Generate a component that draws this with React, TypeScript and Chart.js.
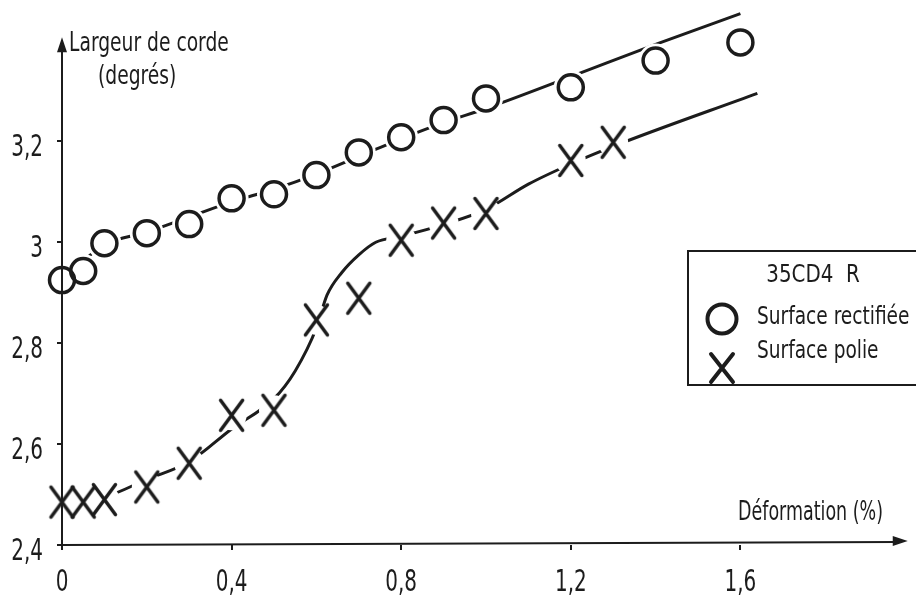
import { useEffect, useRef } from "react";
import { Chart, registerables } from "chart.js";

Chart.register(...registerables);

// ---- data ----
const xTickValues = [0, 0.4, 0.8, 1.2, 1.6];
const yTickValues = [2.4, 2.6, 2.8, 3.0, 3.2];

const rectifieeX = [0, 0.05, 0.1, 0.2, 0.3, 0.4, 0.5, 0.6, 0.7, 0.8, 0.9, 1.0, 1.2, 1.4, 1.6];
const rectifieeY = [2.925, 2.943, 2.998, 3.018, 3.036, 3.087, 3.095, 3.133, 3.178, 3.208, 3.242, 3.285, 3.307, 3.36, 3.396];

const polieX = [0, 0.05, 0.1, 0.2, 0.3, 0.4, 0.5, 0.6, 0.7, 0.8, 0.9, 1.0, 1.2, 1.3];
const polieY = [2.485, 2.485, 2.49, 2.515, 2.562, 2.657, 2.667, 2.846, 2.889, 3.004, 3.038, 3.057, 3.162, 3.198];

const rectifieeTrendX = [0, 0.1, 0.2, 0.3, 0.4, 0.5, 0.6, 0.7, 0.8, 0.9, 1.0, 1.2, 1.4, 1.6];
const rectifieeTrendY = [2.925, 2.995, 3.02, 3.05, 3.08, 3.105, 3.135, 3.17, 3.205, 3.237, 3.265, 3.328, 3.392, 3.453];

const polieTrendX = [0, 0.1, 0.2, 0.3, 0.4, 0.5, 0.55, 0.6, 0.625, 0.66, 0.7, 0.74, 0.8, 0.9, 1.0, 1.1, 1.2, 1.3, 1.64];
const polieTrendY = [2.485, 2.495, 2.53, 2.565, 2.63, 2.69, 2.745, 2.83, 2.895, 2.94, 2.975, 3.0, 3.012, 3.035, 3.065, 3.115, 3.155, 3.19, 3.295];

const legendTitle = "35CD4  R";
const rectifieeLabel = "Surface rectifiée";
const polieLabel = "Surface polie";
const yTitleLines = ["Largeur de corde", "(degrés)"];
const xTitle = "Déformation (%)";

const X_MIN = 0;
const X_MAX = 2.0;
const X_AXIS_END = 1.99;
const Y_MIN = 2.4;
const Y_MAX = 3.48;
const Y_AXIS_END = 3.4;

const INK = "#1c1c1c";
const FONT = "'Liberation Sans Narrow', 'DejaVu Sans Condensed', 'DejaVu Sans', sans-serif";

function zip(xs: number[], ys: number[]) {
  return xs.map((x, i) => ({ x, y: ys[i] }));
}

function makeCross(w: number, h: number, lw: number): HTMLCanvasElement {
  const c = document.createElement("canvas");
  const pad = lw;
  c.width = Math.ceil(w + pad * 2);
  c.height = Math.ceil(h + pad * 2);
  const g = c.getContext("2d")!;
  g.strokeStyle = INK;
  g.lineWidth = lw;
  g.lineCap = "round";
  g.beginPath();
  g.moveTo(pad, pad);
  g.lineTo(pad + w, pad + h);
  g.moveTo(pad + w, pad);
  g.lineTo(pad, pad + h);
  g.stroke();
  return c;
}

function fmt(v: number) {
  return String(v).replace(".", ",");
}

function drawText(
  ctx: CanvasRenderingContext2D,
  text: string,
  x: number,
  y: number,
  size: number,
  sx: number,
  align: CanvasTextAlign
) {
  ctx.save();
  ctx.translate(x, y);
  ctx.scale(sx, 1);
  ctx.font = `${size}px ${FONT}`;
  ctx.textAlign = align;
  ctx.textBaseline = "middle";
  ctx.fillStyle = INK;
  ctx.fillText(text, 0, 0);
  ctx.restore();
}

export default function App() {
  const ref = useRef<HTMLCanvasElement | null>(null);

  useEffect(() => {
    document.body.style.margin = "0";
    const canvas = ref.current!;
    const crossImg = makeCross(22, 30, 3.5);

    const decor = {
      id: "decor",
      afterDatasetsDraw(chart: any) {
        const ctx = chart.ctx as CanvasRenderingContext2D;
        const xs = chart.scales.x;
        const ys = chart.scales.y;
        const x0 = xs.getPixelForValue(X_MIN);
        const y0 = ys.getPixelForValue(Y_MIN);
        const xEnd = xs.getPixelForValue(X_AXIS_END);
        const yEnd = ys.getPixelForValue(Y_AXIS_END);
        ctx.save();
        ctx.strokeStyle = INK;
        ctx.fillStyle = INK;
        ctx.lineWidth = 2;
        // axes
        ctx.beginPath();
        ctx.moveTo(x0, y0);
        ctx.lineTo(x0, yEnd + 8);
        ctx.moveTo(x0, y0);
        ctx.lineTo(xEnd - 8, y0 - 3);
        ctx.stroke();
        // arrows
        ctx.beginPath();
        ctx.moveTo(x0, yEnd - 3);
        ctx.lineTo(x0 - 5, yEnd + 12);
        ctx.lineTo(x0 + 5, yEnd + 12);
        ctx.closePath();
        ctx.fill();
        ctx.beginPath();
        ctx.moveTo(xEnd + 2, y0 - 4);
        ctx.lineTo(xEnd - 13, y0 - 9);
        ctx.lineTo(xEnd - 13, y0 + 1);
        ctx.closePath();
        ctx.fill();

        // tick labels (positions from the library's scales)
        xs.ticks.forEach((t: any) => {
          drawText(ctx, fmt(t.value), xs.getPixelForValue(t.value), 583, 30, 0.74, "center");
        });
        ys.ticks.forEach((t: any) => {
          drawText(ctx, fmt(t.value), 43, ys.getPixelForValue(t.value) + 7, 30, 0.74, "right");
        });

        // axis titles
        drawText(ctx, yTitleLines[0], x0 + 7, 44, 27, 0.77, "left");
        drawText(ctx, yTitleLines[1], x0 + 36, 77, 27, 0.77, "left");
        drawText(ctx, xTitle, 883, 513, 27, 0.72, "right");

        // legend box
        ctx.lineWidth = 2;
        ctx.beginPath();
        ctx.moveTo(930, 251);
        ctx.lineTo(688, 251);
        ctx.lineTo(688, 385);
        ctx.lineTo(930, 385);
        ctx.stroke();
        drawText(ctx, legendTitle, 813, 276, 24, 0.92, "center");
        drawText(ctx, rectifieeLabel, 757, 318, 24, 0.86, "left");
        drawText(ctx, polieLabel, 757, 352, 24, 0.86, "left");
        // legend markers
        ctx.lineWidth = 4;
        ctx.beginPath();
        ctx.arc(722, 319, 14.5, 0, Math.PI * 2);
        ctx.stroke();
        ctx.lineCap = "round";
        ctx.beginPath();
        ctx.moveTo(711, 354);
        ctx.lineTo(733, 382);
        ctx.moveTo(733, 354);
        ctx.lineTo(711, 382);
        ctx.stroke();
        ctx.restore();
      },
    };

    const zeroPad = (s: any) => {
      s.paddingTop = 0;
      s.paddingBottom = 0;
      s.paddingLeft = 0;
      s.paddingRight = 0;
    };

    const chart = new Chart(canvas, {
      type: "scatter",
      data: {
        datasets: [
          {
            label: "trend-rect",
            data: zip(rectifieeTrendX, rectifieeTrendY),
            showLine: true,
            borderColor: INK,
            borderWidth: 3,
            pointRadius: 0,
            cubicInterpolationMode: "monotone",
            clip: false,
            order: 5,
          },
          {
            label: "trend-polie",
            data: zip(polieTrendX, polieTrendY),
            showLine: true,
            borderColor: INK,
            borderWidth: 3,
            pointRadius: 0,
            cubicInterpolationMode: "monotone",
            clip: false,
            order: 5,
          },
          {
            label: "mask-rect",
            data: zip(rectifieeX, rectifieeY),
            pointRadius: 17,
            pointBorderWidth: 0,
            pointBackgroundColor: "#ffffff",
            pointBorderColor: "#ffffff",
            clip: false,
            order: 3,
          },
          {
            label: "mask-polie",
            data: zip(polieX, polieY),
            pointRadius: 15,
            pointBorderWidth: 0,
            pointBackgroundColor: "#ffffff",
            pointBorderColor: "#ffffff",
            clip: false,
            order: 3,
          },
          {
            label: rectifieeLabel,
            data: zip(rectifieeX, rectifieeY),
            pointStyle: "circle",
            pointRadius: 12.5,
            pointBorderWidth: 3.5,
            pointBorderColor: INK,
            pointBackgroundColor: "rgba(0,0,0,0)",
            clip: false,
            order: 1,
          },
          {
            label: polieLabel,
            data: zip(polieX, polieY),
            pointStyle: crossImg as any,
            pointRadius: 15,
            clip: false,
            order: 1,
          },
        ],
      },
      options: {
        animation: false,
        responsive: false,
        maintainAspectRatio: false,
        events: [],
        layout: { autoPadding: false, padding: { top: 0, right: 6, bottom: 0, left: 0 } },
        plugins: {
          legend: { display: false },
          tooltip: { enabled: false },
        },
        scales: {
          x: {
            type: "linear",
            min: X_MIN,
            max: X_MAX,
            afterBuildTicks: (s: any) => {
              s.ticks = xTickValues.map((v) => ({ value: v }));
            },
            afterFit: (s: any) => {
              s.height = 58;
              zeroPad(s);
            },
            border: { display: false },
            grid: {
              drawOnChartArea: false,
              drawTicks: true,
              tickLength: 5,
              color: INK,
              lineWidth: 2,
            },
            ticks: { display: false },
          },
          y: {
            type: "linear",
            min: Y_MIN,
            max: Y_MAX,
            afterBuildTicks: (s: any) => {
              s.ticks = yTickValues.map((v) => ({ value: v }));
            },
            afterFit: (s: any) => {
              s.width = 62;
              zeroPad(s);
            },
            border: { display: false },
            grid: {
              drawOnChartArea: false,
              drawTicks: true,
              tickLength: 5,
              color: INK,
              lineWidth: 2,
            },
            ticks: { display: false },
          },
        },
      },
      plugins: [decor],
    } as any);

    return () => chart.destroy();
  }, []);

  return (
    <div style={{ width: 916, height: 603, background: "#fff", position: "relative" }}>
      <canvas ref={ref} width={916} height={603} style={{ display: "block", width: 916, height: 603 }} />
    </div>
  );
}
